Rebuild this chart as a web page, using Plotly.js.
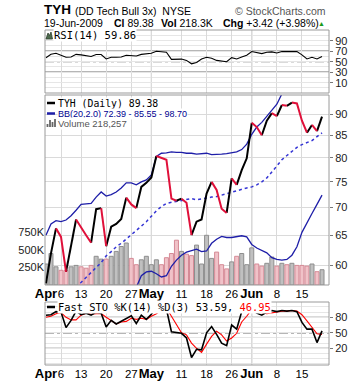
<!DOCTYPE html>
<html><head><meta charset="utf-8">
<script src="https://cdn.plot.ly/plotly-3.0.1.min.js"></script>
<style>html,body{margin:0;padding:0;background:#fff}#chart{width:360px;height:384px}</style>
</head><body><div id="chart"></div>
<script>
// ---------- data ----------
const tradingDays = ['04-01','04-02','04-03','04-06','04-07','04-08','04-09','04-13','04-14','04-15','04-16','04-17','04-20','04-21','04-22','04-23','04-24','04-27','04-28','04-29','04-30',
  '05-01','05-04','05-05','05-06','05-07','05-08','05-11','05-12','05-13','05-14','05-15','05-18','05-19','05-20','05-21','05-22','05-26','05-27','05-28','05-29',
  '06-01','06-02','06-03','06-04','06-05','06-08','06-09','06-10','06-11','06-12','06-15','06-16','06-17','06-18','06-19'];
const tickPositions = [0,3,7,12,17,21,27,32,37,41,46,51];
const tickLabels = ['Apr','6','13','20','27','May','11','18','26','Jun','8','15'];
const monthStarts = [21,41];

const close = [57.1,61.9,66.2,64.7,58.9,63.0,67.8,66.5,65.0,63.7,69.7,69.9,63.1,66.5,67.0,67.9,71.9,70.6,69.9,74.0,74.8,
  75.9,80.4,80.0,79.6,71.7,71.3,71.7,70.9,65.0,67.4,67.8,72.7,75.0,73.4,69.8,69.0,75.7,74.4,77.4,79.9,
  87.9,86.9,85.0,88.4,90.2,89.5,92.2,92.0,92.8,92.6,88.4,85.6,87.4,85.96,89.38];
const bbUpper = [65.0,67.0,67.6,67.4,67.7,68.5,69.5,70.6,70.7,70.8,72.0,73.0,72.2,72.5,73.0,73.8,74.8,74.8,74.4,75.0,75.4,
  76.4,80.3,81.0,81.1,81.3,81.2,81.2,81.0,81.0,80.8,80.9,81.0,80.7,80.7,80.8,80.9,81.1,81.3,81.8,83.0,
  85.2,86.9,88.0,89.4,90.8,92.4,95.0,96.5,97.5,98.0,98.5,98.6,98.7,98.7,98.70];
const bbMiddle = [null,null,null,null,null,null,56.5,57.3,58.1,58.9,59.6,60.4,61.5,62.2,63.0,63.6,64.3,65.0,65.8,66.6,67.4,
  68.4,69.4,70.2,70.8,71.0,71.2,71.4,71.6,71.7,71.5,71.7,71.9,72.0,72.1,72.4,72.7,73.0,73.3,73.6,73.8,
  74.0,74.4,75.0,75.8,77.0,78.4,79.6,80.5,81.4,82.3,82.9,83.3,83.8,84.7,85.55];
const bbLower = [null,null,null,null,null,null,null,null,null,null,null,null,null,null,null,null,null,null,56.5,58.3,58.9,
  59.0,58.6,58.1,58.3,59.8,60.8,61.6,62.1,62.3,62.6,62.2,62.3,63.6,64.3,64.8,64.6,64.6,64.8,64.9,64.7,
  63.4,62.8,62.4,62.0,61.2,60.9,60.8,60.9,61.6,63.0,65.5,67.3,68.9,70.6,72.39];
const volume = [300000,450000,260000,210000,210000,260000,280000,260000,240000,280000,410000,370000,370000,410000,480000,550000,600000,380000,290000,360000,410000,
  290000,360000,290000,390000,450000,640000,480000,440000,420000,570000,300000,710000,380000,470000,290000,230000,330000,410000,450000,290000,
  530000,300000,270000,310000,400000,270000,310000,290000,310000,280000,280000,270000,300000,190000,218257];
const rsi = [57.6,64.2,66.0,63.0,58.6,59.0,64.0,63.0,61.0,60.0,63.6,63.6,55.2,58.4,58.4,59.0,62.3,61.6,61.0,64.0,64.9,
  66.0,69.9,69.3,68.0,54.5,54.5,55.0,52.5,46.0,48.6,55.0,58.4,56.5,52.5,50.7,50.0,57.8,55.2,59.0,62.3,
  69.3,66.7,65.4,68.0,68.7,66.7,69.3,69.3,69.5,69.3,63.0,55.2,58.4,55.2,59.86];
const stoK = [84,85,91,90,60,74,92,85,88,84,90,88,61,74,67,72,78,83,68,84,76,
  86,99,98,96,52,50,49,40,2,18,17,50,62,47,30,25,65,57,91,98,
  96,88,84,90,93,91,93,92,93,91,70,57,57,31,53.59];
const stoD = [80,82,87,89,80,75,75,84,88,86,87,87,80,74,67,71,72,78,76,78,76,
  82,87,94,98,82,66,50,46,30,20,12,28,43,53,46,34,40,49,71,82,
  95,94,89,87,89,91,92,92,93,92,85,73,61,48,46.95];

// ---------- helpers ----------
const W = 360, H = 384;
const px = x => x / W, py = y => 1 - y / H;
const X0 = px(45), X1 = px(329);
const idx = close.map((_, i) => i);

function priceRuns(wantUp) {
  const xs = [], ys = [];
  let open = false;
  for (let i = 1; i < close.length; i++) {
    const up = close[i] >= close[i - 1];
    if (up === wantUp) {
      if (!open) { xs.push(i - 1); ys.push(close[i - 1]); open = true; }
      xs.push(i); ys.push(close[i]);
    } else if (open) { xs.push(null); ys.push(null); open = false; }
  }
  return { xs, ys };
}
const upRuns = priceRuns(true), downRuns = priceRuns(false);
const isUpDay = close.map((c, i) => i === 0 ? true : c >= close[i - 1]);

const traces = [
  { type: 'bar', x: idx, y: volume, xaxis: 'x2', yaxis: 'y2', width: 0.8,
    marker: { color: isUpDay.map(u => u ? '#c0c0c0' : '#f0c2c8'),
      line: { color: isUpDay.map(u => u ? '#8e8e8e' : '#d58a96'), width: 1 } }, hoverinfo: 'skip' },
  { type: 'scatter', mode: 'lines', x: idx, y: bbUpper, xaxis: 'x2', yaxis: 'y3', line: { color: '#1e1ea8', width: 1.3 }, hoverinfo: 'skip' },
  { type: 'scatter', mode: 'lines', x: idx, y: bbLower, xaxis: 'x2', yaxis: 'y3', line: { color: '#1e1ea8', width: 1.3 }, hoverinfo: 'skip' },
  { type: 'scatter', mode: 'lines', x: idx, y: bbMiddle, xaxis: 'x2', yaxis: 'y3', line: { color: '#3434d4', width: 1.5, dash: 'dot' }, hoverinfo: 'skip' },
  { type: 'scatter', mode: 'lines', x: upRuns.xs, y: upRuns.ys, xaxis: 'x2', yaxis: 'y3', connectgaps: false, line: { color: '#000', width: 2 }, hoverinfo: 'skip' },
  { type: 'scatter', mode: 'lines', x: downRuns.xs, y: downRuns.ys, xaxis: 'x2', yaxis: 'y3', connectgaps: false, line: { color: '#e0103a', width: 2 }, hoverinfo: 'skip' },
  { type: 'scatter', mode: 'lines', x: idx, y: rsi, xaxis: 'x', yaxis: 'y', line: { color: '#000', width: 1.1 }, hoverinfo: 'skip' },
  { type: 'scatter', mode: 'lines', x: idx, y: stoD, xaxis: 'x3', yaxis: 'y4', line: { color: '#ff0000', width: 1.1 }, hoverinfo: 'skip' },
  { type: 'scatter', mode: 'lines', x: idx, y: stoK, xaxis: 'x3', yaxis: 'y4', line: { color: '#000', width: 1.6 }, hoverinfo: 'skip' }
];

const tickText = tickLabels.map(t => /^[A-Z]/.test(t) ? '<span style="font-size:13px"><b>' + t + '</b></span>' : t);
const xCommon = { domain: [X0, X1], range: [-0.19, 56.39], tickmode: 'array', tickvals: tickPositions, ticktext: tickText, tickangle: 0,
  showgrid: true, gridcolor: '#dadada', gridwidth: 1, zeroline: false, ticks: '', showline: false, fixedrange: true,
  tickfont: { size: 11.5, color: '#000', family: 'Liberation Sans, Arial, sans-serif' } };
const yTickFont = { size: 11, color: '#222', family: 'Liberation Sans, Arial, sans-serif' };

const shapes = [];
// threshold lines
[[70, 'solid'], [50, 'dashdot'], [30, 'solid']].forEach(([v, d]) => shapes.push({ type: 'line', xref: 'paper', yref: 'y', x0: X0, x1: X1, y0: v, y1: v, line: { color: '#6e6e6e', width: 1.2, dash: d }, layer: 'below' }));
[[80, 'solid'], [50, 'dashdot'], [20, 'solid']].forEach(([v, d]) => shapes.push({ type: 'line', xref: 'paper', yref: 'y4', x0: X0, x1: X1, y0: v, y1: v, line: { color: '#6e6e6e', width: 1.2, dash: d }, layer: 'below' }));
// month divider lines
const panels = [[30, 93], [95, 285], [302, 365]];
monthStarts.forEach(m => panels.forEach(([t, b]) => shapes.push({ type: 'line', xref: 'x', yref: 'paper', x0: m, x1: m, y0: py(b), y1: py(t), line: { color: '#a6a6a6', width: 1 }, layer: 'below' })));
// panel borders
panels.forEach(([t, b]) => shapes.push({ type: 'rect', xref: 'paper', yref: 'paper', x0: X0, x1: X1, y0: py(b), y1: py(t), line: { color: '#9a9a9a', width: 1 }, fillcolor: 'rgba(0,0,0,0)', layer: 'above' }));

const ann = (x, y, text, font, extra) => Object.assign({ xref: 'paper', yref: 'paper', x: px(x), y: py(y), xanchor: 'left', yanchor: 'middle', showarrow: false, text: text,
  font: Object.assign({ family: 'Liberation Sans, Arial, sans-serif', size: 10.5, color: '#000' }, font) }, extra || {});
const mono = 'DejaVu Sans Mono, monospace';
const annotations = [
  ann(42, 10, '<b>TYH</b>', { size: 13.5 }),
  ann(73, 11, '(DD Tech Bull 3x)  NYSE', { size: 10.5 }),
  ann(328, 11, '© StockCharts.com', { size: 10.5, color: '#555' }, { xanchor: 'right' }),
  ann(42, 22.5, '19-Jun-2009', { size: 10.5 }),
  ann(112, 22.5, '<b>Cl</b> 89.38', { size: 10.5 }),
  ann(159, 22.5, '<b>Vol</b> 218.3K', { size: 10.5 }),
  ann(221, 22.5, '<b>Chg</b> +3.42 (+3.98%)', { size: 10.5 }),
  ann(316, 23, '▲', { size: 7, color: '#1a9a1a' }),
  ann(53, 35, 'RSI(14) 59.86', { family: mono, size: 10.5 }, { bgcolor: '#fff', borderpad: 0 }),
  ann(57, 103, 'TYH (Daily) 89.38', { family: mono, size: 9.8 }, { bgcolor: '#fff', borderpad: 0 }),
  ann(57, 113.5, 'BB(20,2.0) 72.39 - 85.55 - 98.70', { size: 9, color: '#000090' }, { bgcolor: '#fff', borderpad: 0 }),
  ann(57, 123, 'Volume 218,257', { size: 9.5, color: '#555' }, { bgcolor: '#fff', borderpad: 0 }),
  ann(57, 307, 'Fast STO %K(14) %D(3) 53.59, <span style="color:#ff0000">46.95</span>', { family: mono, size: 10.4 }, { bgcolor: '#fff', borderpad: 0 })
];
// legend icons
shapes.push({ type: 'line', xref: 'paper', yref: 'paper', x0: px(47), x1: px(55), y0: py(103), y1: py(103), line: { color: '#000', width: 2.5 } });
shapes.push({ type: 'line', xref: 'paper', yref: 'paper', x0: px(47), x1: px(55), y0: py(113.5), y1: py(113.5), line: { color: '#1e1ea8', width: 2.5 } });
shapes.push({ type: 'line', xref: 'paper', yref: 'paper', x0: px(47), x1: px(55), y0: py(307), y1: py(307), line: { color: '#000', width: 2.5 } });
[[47.5, 124], [50, 120], [52.5, 122], [55, 119]].forEach(([x, t]) => shapes.push({ type: 'rect', xref: 'paper', yref: 'paper', x0: px(x - 0.9), x1: px(x + 0.9), y0: py(127), y1: py(t), line: { width: 0 }, fillcolor: '#666' }));
shapes.push({ type: 'path', xref: 'paper', yref: 'paper',
  path: 'M ' + px(46) + ',' + py(39) + ' L ' + px(48) + ',' + py(33) + ' L ' + px(49.5) + ',' + py(35.5) + ' L ' + px(51) + ',' + py(32) + ' L ' + px(52.5) + ',' + py(39) + ' Z',
  fillcolor: '#4d6b4d', line: { color: '#2f3f2f', width: 0.8 } });

const layout = {
  width: W, height: H, margin: { l: 0, r: 0, t: 0, b: 0 }, paper_bgcolor: '#fff', plot_bgcolor: 'rgba(0,0,0,0)', showlegend: false,
  font: { family: 'Liberation Sans, Arial, sans-serif', size: 11, color: '#222' },
  xaxis: Object.assign({}, xCommon, { anchor: 'y', showticklabels: false }),
  xaxis2: Object.assign({}, xCommon, { anchor: 'y2', showticklabels: true }),
  xaxis3: Object.assign({}, xCommon, { anchor: 'y4', showticklabels: true }),
  yaxis: { domain: [py(93), py(30)], range: [-9.6, 110.4], side: 'right', anchor: 'x', tickmode: 'array', tickvals: [10, 30, 50, 70, 90],
    ticks: 'outside', ticklen: 3, tickcolor: '#777', tickfont: yTickFont, showgrid: true, gridcolor: '#e6e6e6', zeroline: false, fixedrange: true,
    minor: { dtick: 10, tick0: 0, showgrid: true, gridcolor: '#e6e6e6', ticks: '' } },
  yaxis2: { domain: [py(285), py(95)], range: [0, 2714000], side: 'left', anchor: 'x2', tickmode: 'array', tickvals: [250000, 500000, 750000],
    ticktext: ['250K', '500K', '750K'], ticks: '', showgrid: false, zeroline: false, tickfont: yTickFont, fixedrange: true },
  yaxis3: { overlaying: 'y2', side: 'right', anchor: 'x2', type: 'log', range: [1.75483, 1.9764], tickmode: 'array', tickvals: [60, 65, 70, 75, 80, 85, 90],
    ticks: 'outside', ticklen: 3, tickcolor: '#777', tickfont: yTickFont, showgrid: true, gridcolor: '#dadada', zeroline: false, fixedrange: true },
  yaxis4: { domain: [py(365), py(302)], range: [-12.4, 109.6], side: 'right', anchor: 'x3', tickmode: 'array', tickvals: [20, 50, 80],
    ticks: 'outside', ticklen: 3, tickcolor: '#777', tickfont: yTickFont, showgrid: true, gridcolor: '#e6e6e6', zeroline: false, fixedrange: true,
    minor: { dtick: 10, tick0: 0, showgrid: true, gridcolor: '#e6e6e6', ticks: '' } },
  shapes: shapes, annotations: annotations
};
Plotly.newPlot('chart', traces, layout, { staticPlot: true, displayModeBar: false });
</script></body></html>
